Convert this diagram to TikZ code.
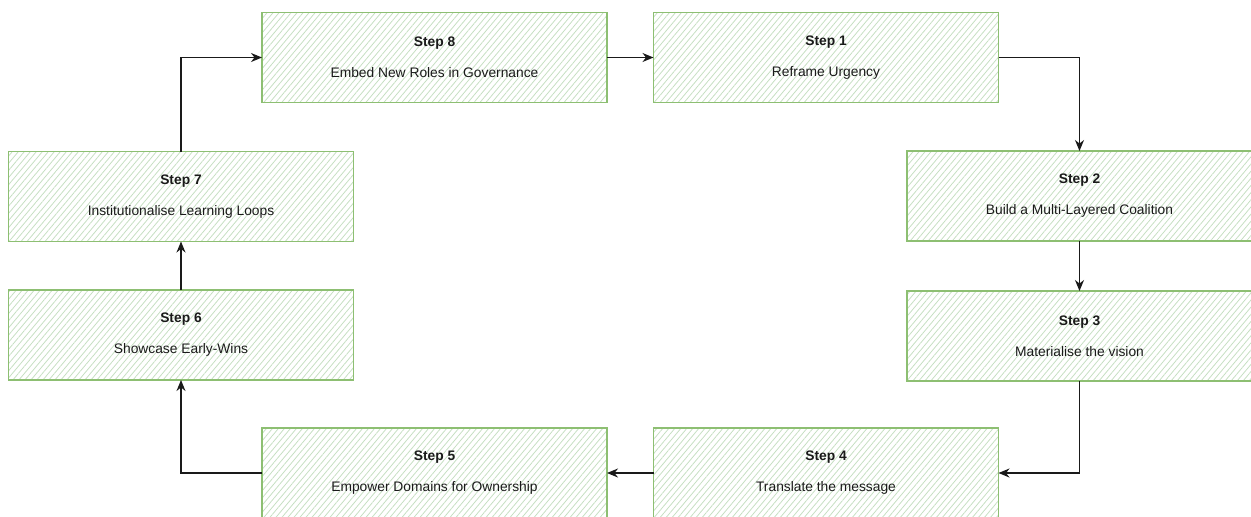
\documentclass[tikz,border=0pt]{standalone}
\usepackage{fontspec}
\setmainfont{Liberation Sans}
\usetikzlibrary{patterns.meta,arrows.meta}
\definecolor{boxline}{HTML}{8DBF72}
\definecolor{hatch}{HTML}{C6DFC2}
\definecolor{conn}{HTML}{1A1A1A}
\tikzset{
  stepbox/.style={draw=boxline, line width=1.4pt,
    pattern={Lines[angle=50,distance=4.6pt,line width=0.8pt]}, pattern color=hatch,
    minimum width=345pt, minimum height=90pt, inner sep=0pt, outer sep=0pt,
    align=center, text=conn,
    font=\fontsize{13.8}{31}\selectfont},
  arr/.style={draw=conn, line width=1.2pt,
    -{Stealth[length=11pt,width=9pt,inset=3.5pt]}}
}
\begin{document}
\begin{tikzpicture}[x=1pt,y=-1pt]
\useasboundingbox (0,0) rectangle (1251,517);
\clip (0,0) rectangle (1251,517);
\node[stepbox] (s8) at (434.5,57.5) {\textbf{Step 8}\\Embed New Roles in Governance};
\node[stepbox] (s1) at (826,57.5) {\textbf{Step 1}\\Reframe Urgency};
\node[stepbox] (s2) at (1079.5,196) {\textbf{Step 2}\\Build a Multi-Layered Coalition};
\node[stepbox] (s3) at (1079.5,336) {\textbf{Step 3}\\Materialise the vision};
\node[stepbox] (s4) at (826,473) {\textbf{Step 4}\\Translate the message};
\node[stepbox] (s5) at (434.5,473) {\textbf{Step 5}\\Empower Domains for Ownership};
\node[stepbox] (s6) at (181,335) {\textbf{Step 6}\\Showcase Early-Wins};
\node[stepbox] (s7) at (181,196.5) {\textbf{Step 7}\\Institutionalise Learning Loops};
\draw[arr] (s8.east) -- (s1.west);
\draw[arr] (s1.east) -| (s2.north);
\draw[arr] (s2.south) -- (s3.north);
\draw[arr] (s3.south) |- (s4.east);
\draw[arr] (s4.west) -- (s5.east);
\draw[arr] (s5.west) -| (s6.south);
\draw[arr] (s6.north) -- (s7.south);
\draw[arr] (s7.north) |- (s8.west);
\end{tikzpicture}
\end{document}
